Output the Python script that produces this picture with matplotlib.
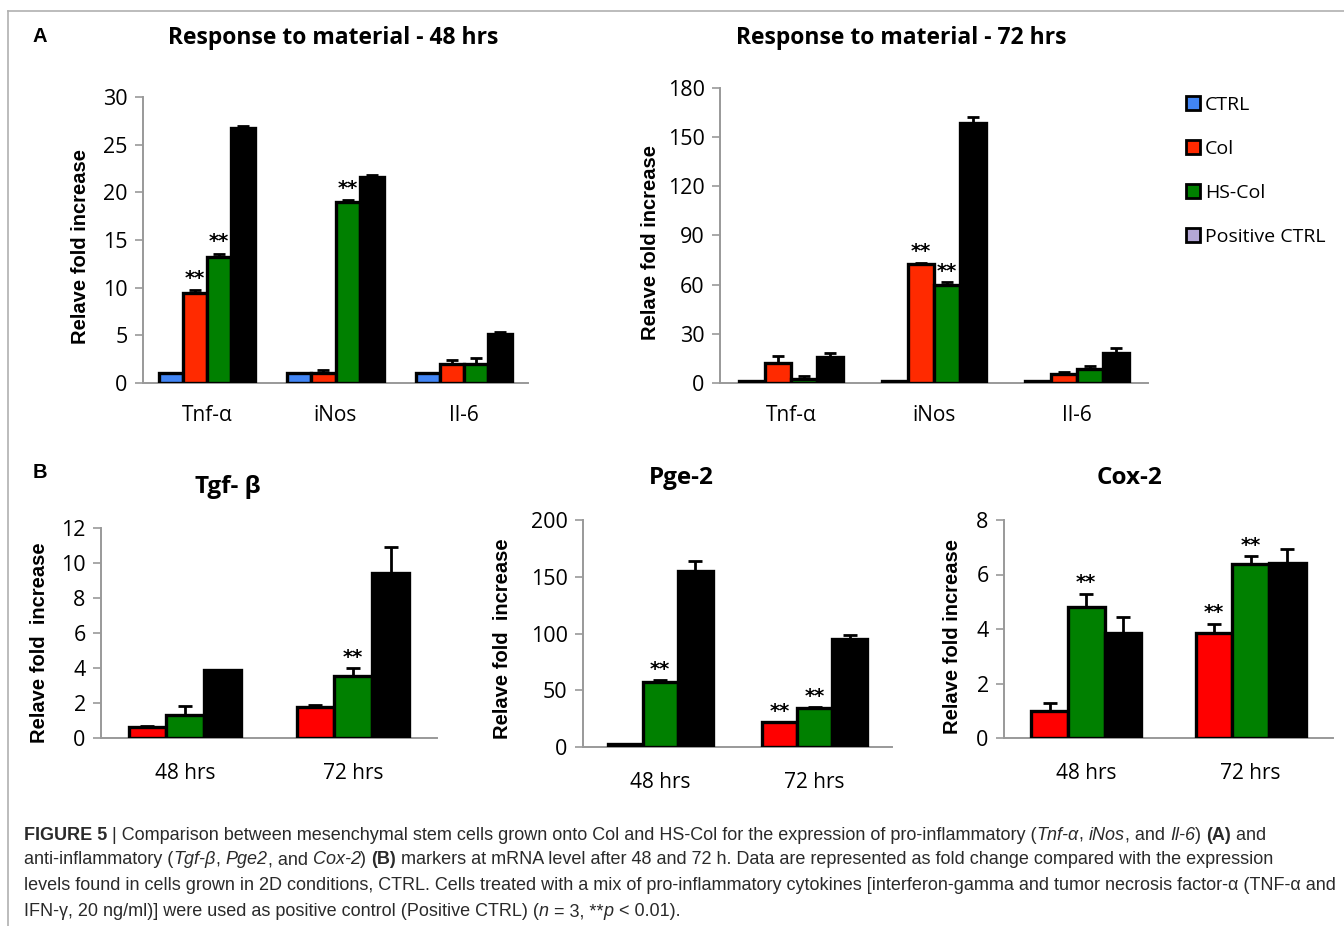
import matplotlib
matplotlib.use('Agg')
import matplotlib.pyplot as plt
from matplotlib.patches import Patch
from matplotlib.lines import Line2D
from matplotlib.font_manager import FontProperties
import numpy as np

plt.rcParams['font.family'] = ['Open Sans', 'DejaVu Sans']

# ---- data ----
genes_a = ['Tnf-α', 'iNos', 'Il-6']
series_a = ['CTRL', 'Col', 'HS-Col', 'Positive CTRL']
colors_a = ['#4285f4', '#ff2a00', '#008000', '#000000']
legend_colors = ['#4285f4', '#ff2a00', '#008000', '#b4a7d6']

h48_ctrl = [1.0, 1.0, 1.0]
h48_col = [9.4, 1.0, 2.0]
h48_hscol = [13.2, 19.0, 2.0]
h48_pos = [26.8, 21.6, 5.1]
h48_ctrl_err = [0, 0, 0]
h48_col_err = [0.35, 0.4, 0.4]
h48_hscol_err = [0.35, 0.2, 0.6]
h48_pos_err = [0.2, 0.2, 0.3]

h72_ctrl = [1.0, 1.0, 1.0]
h72_col = [12.0, 72.5, 5.5]
h72_hscol = [2.5, 59.5, 8.5]
h72_pos = [16.0, 158.5, 18.0]
h72_ctrl_err = [0, 0, 0]
h72_col_err = [4.5, 1.0, 1.0]
h72_hscol_err = [2.0, 2.0, 2.0]
h72_pos_err = [2.0, 3.5, 3.5]

times = ['48 hrs', '72 hrs']
colors_b = ['#ff0000', '#008000', '#000000']

tgf_col = [0.65, 1.8]
tgf_hscol = [1.3, 3.55]
tgf_pos = [3.9, 9.45]
tgf_col_err = [0.05, 0.1]
tgf_hscol_err = [0.55, 0.45]
tgf_pos_err = [0.0, 1.45]

pge_col = [3.0, 22.0]
pge_hscol = [57.0, 34.5]
pge_pos = [155.0, 95.5]
pge_col_err = [0.0, 0.0]
pge_hscol_err = [2.0, 0.5]
pge_pos_err = [9.0, 3.5]

cox_col = [1.0, 3.85]
cox_hscol = [4.8, 6.37]
cox_pos = [3.85, 6.42]
cox_col_err = [0.3, 0.35]
cox_hscol_err = [0.5, 0.3]
cox_pos_err = [0.6, 0.5]

# (group, series) pairs marked with **
sig_48 = [(0, 1), (0, 2), (1, 2)]
sig_72 = [(1, 1), (1, 2)]
sig_tgf = [(1, 1)]
sig_pge = [(0, 1), (1, 0), (1, 1)]
sig_cox = [(0, 1), (1, 0), (1, 1)]

W, H = 1344, 926
fig = plt.figure(figsize=(W / 100, H / 100), dpi=100)


def px_axes(x0, y0, x1, y1):
    # pixel box (top-left origin) -> figure axes
    return fig.add_axes([x0 / W, 1 - y1 / H, (x1 - x0) / W, (y1 - y0) / H])


def bar_panel(ax, cats, means, errs, colors, group_w, ymax, ystep, sig, star_off,
              tick_fs=15.5, cat_fs=15, cat_pad=16):
    n = len(means)
    x = np.arange(len(cats))
    bw = group_w / n
    for i in range(n):
        xs = x - group_w / 2 + bw * (i + 0.5)
        ax.bar(xs, means[i], width=bw, color=colors[i], edgecolor='black',
               linewidth=2.4, zorder=3)
        top = np.array(means[i])
        e = np.array(errs[i])
        ax.errorbar(xs, top, yerr=[np.zeros_like(e), e], fmt='none', ecolor='black',
                    elinewidth=2, capsize=bw * 22, capthick=2, zorder=4)
    for g, s in sig:
        xs = g - group_w / 2 + bw * (s + 0.5)
        ax.text(xs, means[s][g] + errs[s][g] + star_off, '**', ha='center', va='bottom',
                fontsize=14, fontweight='bold', family='DejaVu Sans', zorder=5)
    ax.set_xlim(-0.5, len(cats) - 0.5)
    ax.set_ylim(0, ymax)
    ax.set_yticks(np.arange(0, ymax + ystep / 2, ystep))
    ax.set_xticks(x)
    ax.set_xticklabels(cats, fontsize=cat_fs)
    ax.tick_params(axis='x', length=0, pad=cat_pad)
    ax.tick_params(axis='y', length=6, width=1.2, color='#999999', labelsize=tick_fs, pad=5)
    for sp in ['top', 'right']:
        ax.spines[sp].set_visible(False)
    for sp in ['left', 'bottom']:
        ax.spines[sp].set_color('#999999')
        ax.spines[sp].set_linewidth(1.4)
    ax.spines['bottom'].set_zorder(2)
    ax.patch.set_visible(False)


def ftext(x, y, s, **kw):
    return fig.text(x / W, 1 - y / H, s, **kw)


# ---- panel A ----
ax1 = px_axes(143, 97, 528, 383)
bar_panel(ax1, genes_a, [h48_ctrl, h48_col, h48_hscol, h48_pos],
          [h48_ctrl_err, h48_col_err, h48_hscol_err, h48_pos_err],
          colors_a, 0.75, 30, 5, sig_48, 0.25)

ax2 = px_axes(720, 88, 1148, 383)
bar_panel(ax2, genes_a, [h72_ctrl, h72_col, h72_hscol, h72_pos],
          [h72_ctrl_err, h72_col_err, h72_hscol_err, h72_pos_err],
          colors_a, 0.73, 180, 30, sig_72, 1.0)

# ---- panel B ----
ax3 = px_axes(101, 528, 437, 738)
bar_panel(ax3, times, [tgf_col, tgf_hscol, tgf_pos],
          [tgf_col_err, tgf_hscol_err, tgf_pos_err],
          colors_b, 0.67, 12, 2, sig_tgf, 0.05, cat_pad=18)

ax4 = px_axes(583, 520, 892, 747)
bar_panel(ax4, times, [pge_col, pge_hscol, pge_pos],
          [pge_col_err, pge_hscol_err, pge_pos_err],
          colors_b, 0.68, 200, 50, sig_pge, 1.0, cat_pad=18)

ax5 = px_axes(1004, 520, 1333, 738)
bar_panel(ax5, times, [cox_col, cox_hscol, cox_pos],
          [cox_col_err, cox_hscol_err, cox_pos_err],
          colors_b, 0.67, 8, 2, sig_cox, 0.04, cat_pad=18)

# titles, labels
tkw = dict(ha='center', va='center', fontsize=16.5, fontweight='bold')
ftext(333, 38, 'Response to material - 48 hrs', **tkw)
ftext(901, 38, 'Response to material - 72 hrs', **tkw)
bkw = dict(ha='center', va='center', fontsize=17.5, fontweight='bold')
ftext(228, 487, 'Tgf- β', **bkw)
ftext(681, 478, 'Pge-2', **bkw)
ftext(1129, 478, 'Cox-2', **bkw)

pkw = dict(ha='center', va='center', fontsize=14.5, fontweight='bold', family='Liberation Sans')
ftext(40, 37, 'A', **pkw)
ftext(40, 472, 'B', **pkw)

ykw = dict(ha='center', va='center', rotation=90, fontsize=14.5, fontweight='bold',
           family='Liberation Sans')
ftext(80, 247, 'Relave fold increase', **ykw)
ftext(650, 242, 'Relave fold increase', **ykw)
ftext(40, 643, 'Relave fold  increase', **ykw)
ftext(503, 639, 'Relave fold  increase', **ykw)
ftext(952, 637, 'Relave fold increase', **ykw)

# legend
handles = [Patch(facecolor=c, edgecolor='black', linewidth=2) for c in legend_colors]
fig.legend(handles, series_a, loc='upper left', bbox_to_anchor=(1178 / W, 1 - 88 / H),
           frameon=False, fontsize=14, handlelength=0.75, handleheight=0.75,
           handletextpad=0.25, labelspacing=1.34, borderaxespad=0)

# frame lines
fig.add_artist(Line2D([8 / W, 8 / W], [0, 1 - 11 / H], transform=fig.transFigure,
                      color='#b0b0b0', lw=1.2))
fig.add_artist(Line2D([8 / W, 1], [1 - 11 / H, 1 - 11 / H], transform=fig.transFigure,
                      color='#b0b0b0', lw=1.2))

# caption, drawn segment by segment
cap_family = ['Liberation Sans', 'DejaVu Sans']
cap_fs = 13
caption = [
    [('FIGURE 5', 'b'), (' | Comparison between mesenchymal stem cells grown onto Col and HS-Col for the expression of pro-inflammatory (', 'n'),
     ('Tnf-α', 'i'), (', ', 'n'), ('iNos', 'i'), (', and ', 'n'), ('Il-6', 'i'), (') ', 'n'), ('(A)', 'b'), (' and', 'n')],
    [('anti-inflammatory (', 'n'), ('Tgf-β', 'i'), (', ', 'n'), ('Pge2', 'i'), (', and ', 'n'), ('Cox-2', 'i'), (') ', 'n'),
     ('(B)', 'b'), (' markers at mRNA level after 48 and 72 h. Data are represented as fold change compared with the expression', 'n')],
    [('levels found in cells grown in 2D conditions, CTRL. Cells treated with a mix of pro-inflammatory cytokines [interferon-gamma and tumor necrosis factor-α (TNF-α and', 'n')],
    [('IFN-γ, 20 ng/ml)] were used as positive control (Positive CTRL) (', 'n'), ('n', 'i'), (' = 3, **', 'n'), ('p', 'i'), (' < 0.01).', 'n')],
]
cap_y = [835, 860, 886, 912]

renderer = fig.canvas.get_renderer()


def seg_props(style):
    return FontProperties(family=cap_family, size=cap_fs,
                          weight='bold' if style == 'b' else 'normal',
                          style='italic' if style == 'i' else 'normal')


def seg_width(s, prop):
    w1 = renderer.get_text_width_height_descent('|' + s + '|', prop, ismath=False)[0]
    w0 = renderer.get_text_width_height_descent('||', prop, ismath=False)[0]
    return w1 - w0


for line, y in zip(caption, cap_y):
    x = 24
    for s, st in line:
        prop = seg_props(st)
        ftext(x, y, s, fontproperties=prop, ha='left', va='center', color='#2a2a2a')
        x += seg_width(s, prop)

fig.savefig('out.png', dpi=100)
